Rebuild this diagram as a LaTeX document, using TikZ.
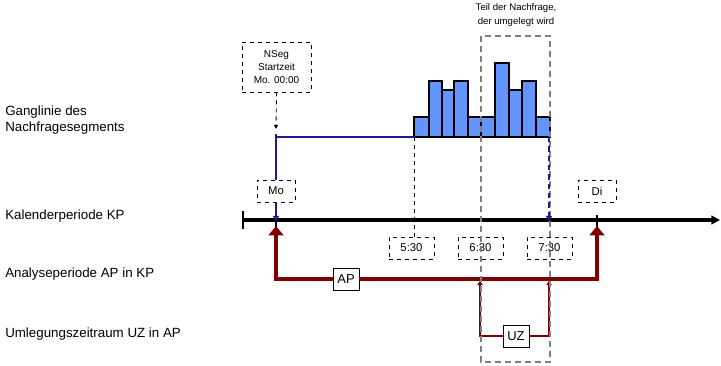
\documentclass[tikz,border=0pt]{standalone}
\usepackage{fontspec}
\setmainfont{Liberation Sans}
\usetikzlibrary{arrows.meta,positioning}
\definecolor{apred}   {RGB}{128,0,0}
\definecolor{segblue} {RGB}{28,28,140}
\definecolor{barblue} {RGB}{100,149,255}
\definecolor{umlgray} {RGB}{128,128,128}
\tikzset{
  rowlbl/.style ={anchor=west, align=left, inner sep=0pt,
                  font=\fontsize{10}{12.5}\selectfont},
  tbox/.style   ={draw, dashed, fill=white, align=center, inner sep=0pt,
                  minimum width=#1, minimum height=16.5pt,
                  font=\fontsize{8.5}{10}\selectfont},
  tbox/.default=28.5pt,
  lblbox/.style ={draw, fill=white, inner sep=0pt,
                  minimum width=19.5pt, minimum height=16.5pt,
                  font=\fontsize{9.7}{11}\selectfont},
  bar/.style    ={draw=black, fill=barblue, line width=1pt},
  axis/.style   ={-{Triangle[length=6.5pt,width=6.5pt]}, line width=2.5pt},
  tick/.style   ={line width=1.6pt},
  segline/.style={segblue, line width=1.6pt},
  segarr/.style ={segblue, line width=1.6pt, -{Triangle[length=4pt,width=4.5pt]}},
  aparr/.style  ={apred, line width=3.4pt, -{Triangle[length=7pt,width=11pt]}},
  uzarr/.style  ={apred, line width=1.7pt, -{Triangle[length=3pt,width=4pt]}},
  helper/.style ={dashed, line width=0.65pt},
  umlbox/.style ={umlgray, line width=1.6pt, dash pattern=on 4.5pt off 3pt},
}

\begin{document}
\begin{tikzpicture}[x=0.75pt, y=-0.75pt]
  \useasboundingbox (0,0) rectangle (721,366);
  %% row labels
  \node[rowlbl] (lgang) at (5,120) {Ganglinie des\\Nachfragesegments};
  \node[rowlbl] (lkp)   at (5,216) {Kalenderperiode KP};
  \node[rowlbl] (lap)   at (5,274) {Analyseperiode AP in KP};
  \node[rowlbl] (luz)   at (5,334) {Umlegungszeitraum UZ in AP};
  %% time axis
  \coordinate (ax0) at (243,220);
  \coordinate (ax1) at (720,220);
  \coordinate (mo)  at (276,220);
  \coordinate (di)  at (597,220);
  \draw[axis] (ax0) -- (ax1);
  \draw[tick] ([yshift=-7]ax0) -- ([yshift=7]ax0);
  \draw[tick] ([yshift=-8]di) -- ([yshift=4]di);
  \draw[tick] ([yshift=-6]mo) -- ([yshift=6]mo);
  %% demand curve
  \coordinate (s0) at (276,137);
  \coordinate (s1) at (414,137);
  \coordinate (s2) at (549,137);
  \foreach \xa/\xb/\ht in {414/429/117, 429/442/81, 442/454/90, 454/468/81,
                           468/481/117, 481/495/117, 495/509/63, 509/522/90,
                           522/536/81, 536/550/117}
    \draw[bar] (\xa,137) rectangle (\xb,\ht);
  \draw[segline] (s0) -- (s1);
  \draw[segarr] ([yshift=2]s0) -- ([yshift=-1]mo);
  \node[tbox] (mobox) at (276,191) {Mo};
  \node[tbox] (dibox) at (597,191) {Di};
  \node[tbox=51.75pt, minimum height=37.5pt, font=\fontsize{7.5}{9.5}\selectfont]
    (nseg) at (276.5,67) {NSeg\\Startzeit\\Mo. 00:00};
  \coordinate (nsegend) at (276,129);
  \draw[helper, -{Triangle[length=3pt,width=3pt]}] (nseg.south) -- (nsegend);
  %% time boxes
  \node[tbox=33.75pt] (t530) at (411.5,248) {5:30};
  \node[tbox=33.75pt] (t630) at (480.5,248) {6:30};
  \node[tbox=33.75pt] (t730) at (549.5,248) {7:30};
  \draw[helper] (s1) -- (s1 |- t530.north);
  %% analysis period
  \node[lblbox] (ap) at (346,279) {AP};
  \coordinate (moap) at (276,226);
  \coordinate (diap) at (597,226);
  \draw[aparr] (ap.west) -| (moap);
  \draw[aparr] (ap.east) -| (diap);
  %% redistribution period
  \node[lblbox] (uz) at (516,336) {UZ};
  \coordinate (uzl) at (480,281);
  \coordinate (uzr) at (549,281);
  \draw[uzarr] (uz.west) -| (uzl);
  \draw[uzarr] (uz.east) -| (uzr);
  %% part of demand that is assigned
  \draw[umlbox] (481,36) rectangle (550,362);
  \draw[segarr, dash pattern=on 4pt off 3pt] (s2) -- ([yshift=-1]s2 |- mo);
  \node[align=center, inner sep=0pt, font=\fontsize{7.2}{10}\selectfont]
    (teil) at (516,15) {Teil der Nachfrage,\\der umgelegt wird};
\end{tikzpicture}
\end{document}
